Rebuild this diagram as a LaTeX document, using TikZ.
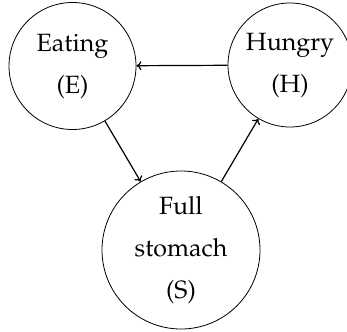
\documentclass[tikz,border=0pt]{standalone}
\usepackage[T1]{fontenc}
\usepackage{mathpazo}
\usetikzlibrary{arrows.meta}
\begin{document}
\begin{tikzpicture}[x=1pt,y=-1pt,
  state/.style={draw,circle,inner sep=0pt,line width=0.8pt,align=center,
    font=\fontsize{25}{42}\selectfont},
  edge/.style={line width=1.2pt,-{To[length=5pt,width=9pt]}}]
  \useasboundingbox (0,0) rectangle (347,331);
  \clip (0,0) rectangle (347,331);
  % the three states of the cycle
  \node[state,minimum size=127pt] (E) at (72.5,66) {Eating\\(E)};
  \node[state,minimum size=124pt] (H) at (290,65) {Hungry\\(H)};
  \node[state,minimum size=158pt] (S) at (181,250) {Full\\stomach\\(S)};
  % transitions
  \draw[edge] (H) -- (E);
  \draw[edge] (E) -- (S);
  \draw[edge] (S) -- (H);
\end{tikzpicture}
\end{document}
